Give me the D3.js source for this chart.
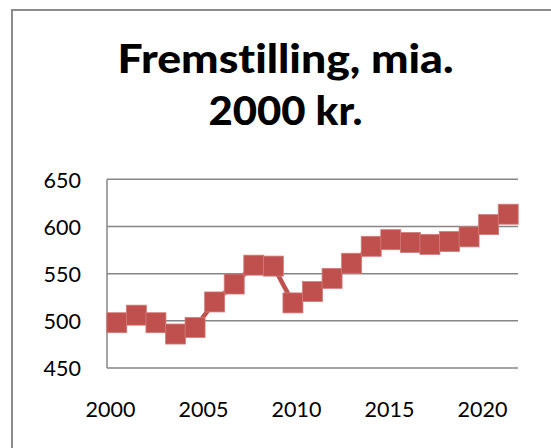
<!DOCTYPE html>
<html><head><meta charset="utf-8">
<script src="https://cdn.jsdelivr.net/npm/d3@7"></script>
<style>html,body{margin:0;padding:0;background:#fff;overflow:hidden}svg{display:block}text{font-variant-ligatures:none;font-feature-settings:"liga" 0,"clig" 0}</style>
</head><body>
<svg id="c" width="551" height="448"></svg>
<script>
const years = [2000,2001,2002,2003,2004,2005,2006,2007,2008,2009,2010,2011,2012,2013,2014,2015,2016,2017,2018,2019,2020];
const values = [498,506,498,486,493,520,539,559,558,519,531,545,561,579,586,583,581,584,589,602,613];
const yTicks = [450,500,550,600,650];
const xTickLabels = [2000,2005,2010,2015,2020];
const titleLines = ["Fremstilling, mia.","2000 kr."];

(function(){
const svg = d3.select("#c");
const font = "Lato, 'Open Sans', sans-serif";
const red = "#C0504D", grid = "#868686";

// outer chart border
svg.append("rect").attr("x",12).attr("y",10).attr("width",600).attr("height",500)
  .attr("fill","#fff").attr("stroke","#8c8c8c").attr("stroke-width",2);

// title
const tw = [336,154];
svg.append("g").selectAll("text").data(titleLines).join("text")
  .attr("x",285.5).attr("y",(d,i)=>73+i*52)
  .attr("text-anchor","middle").attr("font-family",font).attr("font-weight",900)
  .attr("font-size",39).attr("fill","#000")
  .attr("textLength",(d,i)=>tw[i]).attr("lengthAdjust","spacingAndGlyphs").text(d=>d);

const pL=107, pR=518, pT=179.3, pB=368;
const x = d3.scaleBand().domain(years).range([pL,pR]);
const y = d3.scaleLinear().domain([450,650]).range([pB,pT]);

// gridlines
svg.append("g").selectAll("line").data(yTicks).join("line")
  .attr("x1",pL).attr("x2",pR).attr("y1",d=>y(d)).attr("y2",d=>y(d))
  .attr("stroke",grid).attr("stroke-width",1.5);
// left axis line
svg.append("line").attr("x1",pL).attr("x2",pL).attr("y1",pT).attr("y2",pB)
  .attr("stroke",grid).attr("stroke-width",1.5);

// y axis labels
const yAxis = d3.axisLeft(y).tickValues(yTicks).tickSize(0).tickPadding(0);
const gy = svg.append("g").attr("transform",`translate(81,0)`).call(yAxis);
gy.select(".domain").remove();
gy.selectAll("text").attr("font-family",font).attr("font-size",21.5).attr("fill","#000").attr("dy","0.36em");

// x axis labels
const xl = d3.scaleLinear().domain([2000,2020]).range([110,482]);
const xAxis = d3.axisBottom(xl).tickValues(xTickLabels).tickFormat(d3.format("d")).tickSize(0).tickPadding(0);
const gx = svg.append("g").attr("transform",`translate(0,402)`).call(xAxis);
gx.select(".domain").remove();
gx.selectAll("text").attr("font-family",font).attr("font-size",21.5).attr("fill","#000").attr("dy","0.71em");

// line
const cx = d=>x(d)+x.bandwidth()/2;
svg.append("path").datum(values.map((v,i)=>[years[i],v]))
  .attr("fill","none").attr("stroke",red).attr("stroke-width",4.5)
  .attr("d",d3.line().x(d=>cx(d[0])).y(d=>y(d[1])));
const ms=20;
svg.append("g").selectAll("rect").data(values.map((v,i)=>[years[i],v])).join("rect")
  .attr("x",d=>cx(d[0])-ms/2).attr("y",d=>y(d[1])-ms/2).attr("width",ms).attr("height",ms)
  .attr("fill",red).attr("stroke","#d27d7a").attr("stroke-width",0.8);
})();
</script>
</body></html>
